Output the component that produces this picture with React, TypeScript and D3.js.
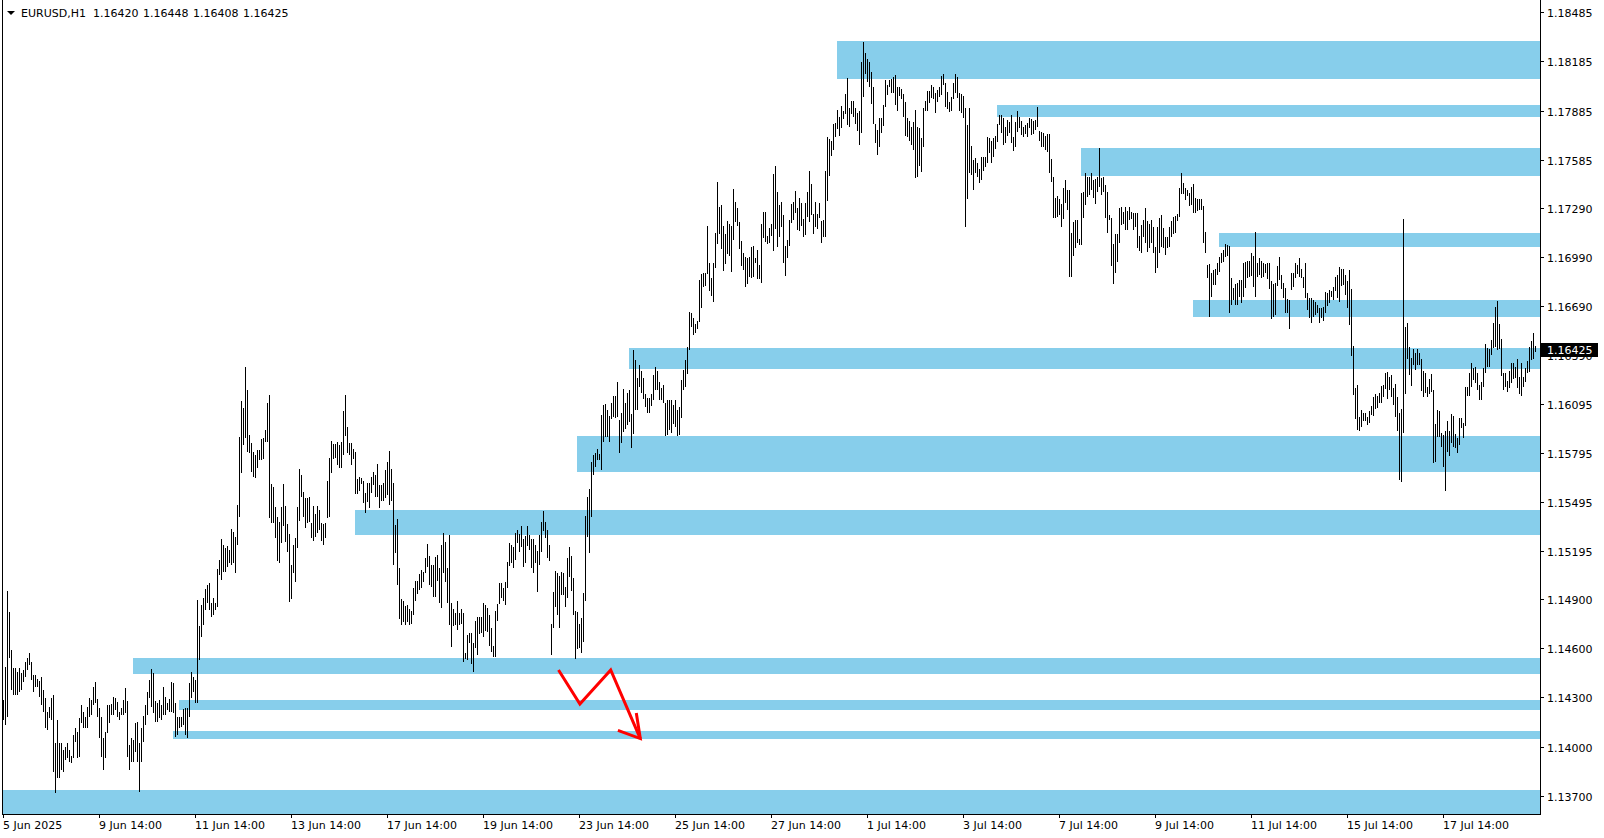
import React from "react";
import * as d3 from "d3";

const symbolLabel = "EURUSD,H1";
const lastBar = [1.1642, 1.16448, 1.16408, 1.16425];

const highs = [
1.14284,1.14488,1.14952,1.14824,1.14590,1.14478,1.14478,1.14457,1.14478,1.14447,
1.14467,1.14518,1.14539,1.14569,1.14518,1.14437,1.14437,1.14415,1.14402,1.14427,
1.14345,1.14295,1.14213,1.14243,1.14295,1.14315,1.14020,1.14162,1.14020,1.14020,
1.13979,1.13999,1.14020,1.13979,1.13942,1.14070,1.14111,1.14090,1.14172,1.14253,
1.14213,1.14182,1.14243,1.14295,1.14284,1.14366,1.14396,1.14290,1.14233,1.14182,
1.14050,1.14090,1.14253,1.14253,1.14260,1.14304,1.14295,1.14274,1.14213,1.14233,
1.14284,1.14356,1.14280,1.14009,1.14050,1.14040,1.14142,1.14152,1.14020,1.14111,
1.14186,1.14253,1.14335,1.14406,1.14472,1.14451,1.14280,1.14268,1.14284,1.14253,
1.14366,1.14304,1.14264,1.14290,1.14396,1.14390,1.14264,1.14182,1.14178,1.14182,
1.14227,1.14233,1.14233,1.14386,1.14457,1.14427,1.14406,1.14895,1.14736,1.14865,
1.14906,1.14961,1.14987,1.15001,1.14875,1.14906,1.14878,1.15085,1.15140,1.15266,
1.15231,1.15211,1.15225,1.15201,1.15327,1.15312,1.15282,1.15476,1.15889,1.16111,
1.16066,1.16318,1.16178,1.15903,1.15853,1.15801,1.15781,1.15812,1.15812,1.15879,
1.15883,1.15934,1.16097,1.16148,1.15604,1.15588,1.15465,1.15404,1.15374,1.15465,
1.15604,1.15469,1.15359,1.15298,1.15109,1.15231,1.15272,1.15465,1.15696,1.15659,
1.15557,1.15517,1.15517,1.15523,1.15364,1.15469,1.15421,1.15469,1.15445,1.15364,
1.15359,1.15367,1.15624,1.15761,1.15868,1.15848,1.15848,1.15862,1.15842,1.15862,
1.16052,1.16148,1.15954,1.15856,1.15856,1.15816,1.15801,1.15635,1.15645,1.15639,
1.15624,1.15551,1.15609,1.15613,1.15645,1.15679,1.15659,1.15726,1.15598,1.15598,
1.15613,1.15689,1.15740,1.15807,1.15697,1.15609,1.15353,1.15388,1.15089,1.14901,
1.14891,1.14858,1.14864,1.14838,1.14830,1.14967,1.15013,1.15013,1.15054,1.15078,
1.15068,1.15150,1.15237,1.15164,1.15109,1.15109,1.15160,1.15170,1.15089,1.15231,
1.15302,1.15251,1.15089,1.15292,1.14878,1.14838,1.14817,1.14891,1.14817,1.14838,
1.14817,1.14573,1.14681,1.14691,1.14691,1.14634,1.14769,1.14793,1.14793,1.14790,
1.14875,1.14864,1.14844,1.14803,1.14722,1.14614,1.14830,1.14871,1.14998,1.14998,
1.14967,1.15007,1.15129,1.15242,1.15231,1.15221,1.15302,1.15323,1.15298,1.15347,
1.15266,1.15286,1.15347,1.15292,1.15266,1.15266,1.15231,1.15196,1.15292,1.15374,
1.15441,1.15374,1.15323,1.15231,1.14748,1.14946,1.15074,1.15062,1.15042,1.15068,
1.15058,1.14973,1.15150,1.15217,1.15164,1.15028,1.14830,1.14824,1.14748,1.14783,
1.14940,1.15408,1.15526,1.15572,1.15740,1.15781,1.15791,1.15816,1.15787,1.16025,
1.16086,1.16093,1.16056,1.16019,1.16101,1.16142,1.16142,1.16229,1.15995,1.16036,
1.16184,1.16101,1.16158,1.16178,1.16031,1.16423,1.16361,1.16250,1.16331,1.16296,
1.16250,1.16154,1.16128,1.16128,1.16154,1.16270,1.16318,1.16296,1.16229,1.16189,
1.16209,1.16097,1.16117,1.16117,1.16117,1.16086,1.16117,1.16056,1.16076,1.16239,
1.16300,1.16361,1.16443,1.16657,1.16650,1.16616,1.16581,1.16602,1.16849,1.16886,
1.16890,1.16894,1.17179,1.16951,1.16860,1.16951,1.17134,1.17450,1.17293,1.17308,
1.17179,1.17130,1.17212,1.17191,1.17179,1.17404,1.17328,1.17287,1.17205,1.17089,
1.17016,1.16988,1.16982,1.16988,1.17049,1.17057,1.16982,1.17033,1.16941,1.17191,
1.17266,1.17266,1.17118,1.17165,1.17191,1.17497,1.17546,1.17389,1.17308,1.17328,
1.17246,1.17057,1.17094,1.17216,1.17314,1.17328,1.17395,1.17287,1.17349,1.17318,
1.17220,1.17321,1.17389,1.17517,1.17436,1.17252,1.17328,1.17252,1.17321,1.17212,
1.17216,1.17517,1.17721,1.17709,1.17700,1.17802,1.17807,1.17888,1.17844,1.17912,
1.17884,1.17986,1.18082,1.17898,1.17945,1.17945,1.17898,1.17871,1.17884,1.18183,
1.18305,1.18238,1.18198,1.18183,1.18122,1.18030,1.17802,1.17766,1.17837,1.17837,
1.17918,1.18071,1.18041,1.18071,1.18076,1.18092,1.18102,1.18027,1.18030,1.18015,
1.17986,1.17939,1.17837,1.17823,1.17783,1.17817,1.17888,1.17783,1.17776,1.17715,
1.17898,1.17945,1.18006,1.18006,1.18041,1.18027,1.17994,1.18010,1.18030,1.18096,
1.18108,1.18051,1.18000,1.17939,1.17969,1.18051,1.18108,1.18088,1.17990,1.17986,
1.17974,1.17898,1.17796,1.17898,1.17668,1.17582,1.17593,1.17566,1.17526,1.17603,
1.17599,1.17599,1.17721,1.17715,1.17700,1.17715,1.17729,1.17802,1.17857,1.17857,
1.17837,1.17783,1.17827,1.17817,1.17857,1.17725,1.17817,1.17884,1.17844,1.17823,
1.17786,1.17796,1.17807,1.17837,1.17831,1.17823,1.17827,1.17904,1.17762,1.17755,
1.17745,1.17729,1.17741,1.17741,1.17587,1.17480,1.17349,1.17363,1.17343,1.17314,
1.17410,1.17460,1.17399,1.17399,1.17134,1.17205,1.17216,1.17216,1.17098,1.17379,
1.17389,1.17501,1.17480,1.17480,1.17501,1.17460,1.17464,1.17480,1.17654,1.17471,
1.17480,1.17430,1.17389,1.17246,1.17226,1.17069,1.17130,1.17130,1.17287,1.17293,
1.17266,1.17297,1.17273,1.17293,1.17266,1.17260,1.17257,1.17260,1.17118,1.17185,
1.17216,1.17287,1.17212,1.17191,1.17216,1.17175,1.17053,1.17172,1.17226,1.17246,
1.17165,1.17114,1.17110,1.17172,1.17212,1.17233,1.17240,1.17252,1.17410,1.17505,
1.17444,1.17410,1.17399,1.17379,1.17416,1.17436,1.17349,1.17343,1.17343,1.17343,
1.17301,1.17144,1.16941,1.16947,1.16894,1.16910,1.16915,1.16955,1.16988,1.17012,
1.17033,1.17069,1.17063,1.17057,1.16860,1.16799,1.16825,1.16833,1.16849,1.16849,
1.16955,1.16961,1.16967,1.16967,1.17012,1.16996,1.17144,1.16951,1.16982,1.16967,
1.16951,1.16947,1.16951,1.16955,1.16845,1.16825,1.16830,1.16935,1.16988,1.16880,
1.16830,1.16799,1.16731,1.16728,1.16890,1.16894,1.16955,1.16941,1.16982,1.16915,
1.16869,1.16955,1.16768,1.16738,1.16738,1.16728,1.16718,1.16698,1.16677,1.16677,
1.16687,1.16778,1.16768,1.16788,1.16784,1.16808,1.16869,1.16880,1.16931,1.16915,
1.16915,1.16880,1.16845,1.16910,1.16793,1.16447,1.16189,1.16209,1.16012,1.16056,
1.16036,1.16036,1.16012,1.16052,1.16080,1.16134,1.16154,1.16142,1.16162,1.16202,
1.16209,1.16284,1.16290,1.16260,1.16270,1.16189,1.16215,1.16137,1.16036,1.16060,
1.17220,1.16565,1.16586,1.16443,1.16372,1.16427,1.16406,1.16427,1.16406,1.16366,
1.16296,1.16284,1.16198,1.16243,1.16276,1.16178,1.15970,1.16056,1.16052,1.15917,
1.15903,1.15930,1.15991,1.15930,1.16031,1.16019,1.15909,1.15883,1.16005,1.16005,
1.15975,1.16198,1.16198,1.16280,1.16345,1.16311,1.16321,1.16280,1.16209,1.16224,
1.16311,1.16459,1.16433,1.16427,1.16484,1.16589,1.16683,1.16724,1.16581,1.16488,
1.16284,1.16284,1.16235,1.16296,1.16341,1.16341,1.16321,1.16366,1.16260,1.16345,
1.16260,1.16311,1.16357,1.16439,1.16479,1.16528,1.16448
];

const lows = [
1.14162,1.14131,1.14182,1.14539,1.14345,1.14315,1.14315,1.14315,1.14335,1.14345,
1.14396,1.14427,1.14467,1.14498,1.14406,1.14335,1.14366,1.14366,1.14304,1.14253,
1.14213,1.14111,1.14101,1.14172,1.14162,1.13846,1.13714,1.13806,1.13806,1.13856,
1.13846,1.13918,1.13928,1.13907,1.13897,1.13928,1.14029,1.13928,1.13938,1.14142,
1.14111,1.14111,1.14111,1.14182,1.14192,1.14253,1.14264,1.14182,1.14050,1.13938,
1.13856,1.13928,1.14080,1.14142,1.14192,1.14192,1.14223,1.14182,1.14162,1.14192,
1.14192,1.14203,1.13938,1.13856,1.13907,1.13907,1.13968,1.13907,1.13724,1.13907,
1.14029,1.14131,1.14192,1.14295,1.14243,1.14203,1.14152,1.14152,1.14172,1.14162,
1.14192,1.14192,1.14223,1.14213,1.14213,1.14203,1.14060,1.14070,1.14111,1.14121,
1.14131,1.14070,1.14050,1.14182,1.14295,1.14335,1.14264,1.14264,1.14529,1.14671,
1.14742,1.14834,1.14875,1.14834,1.14793,1.14803,1.14834,1.14854,1.15048,1.15017,
1.15068,1.15068,1.15099,1.15119,1.15109,1.15119,1.15058,1.15231,1.15404,1.15669,
1.15842,1.15883,1.15801,1.15791,1.15679,1.15649,1.15639,1.15700,1.15751,1.15751,
1.15755,1.15862,1.15862,1.15394,1.15367,1.15364,1.15272,1.15135,1.15119,1.15245,
1.15347,1.15251,1.15190,1.14885,1.14901,1.15062,1.15007,1.15211,1.15380,1.15523,
1.15404,1.15333,1.15364,1.15374,1.15272,1.15257,1.15278,1.15306,1.15323,1.15257,
1.15231,1.15272,1.15394,1.15401,1.15669,1.15755,1.15761,1.15720,1.15700,1.15700,
1.15781,1.15897,1.15791,1.15781,1.15720,1.15755,1.15543,1.15543,1.15563,1.15604,
1.15490,1.15425,1.15496,1.15455,1.15551,1.15598,1.15526,1.15526,1.15455,1.15502,
1.15502,1.15517,1.15537,1.15476,1.15502,1.15109,1.15184,1.14987,1.14777,1.14742,
1.14762,1.14742,1.14762,1.14742,1.14748,1.14803,1.14891,1.14932,1.14956,1.14967,
1.15007,1.15058,1.15095,1.14987,1.14976,1.14915,1.14915,1.15013,1.14878,1.14844,
1.15058,1.15007,1.14878,1.14742,1.14606,1.14736,1.14742,1.14712,1.14742,1.14748,
1.14518,1.14533,1.14529,1.14631,1.14504,1.14455,1.14600,1.14559,1.14687,1.14691,
1.14671,1.14708,1.14701,1.14614,1.14579,1.14545,1.14549,1.14769,1.14871,1.14906,
1.14891,1.14864,1.14967,1.15103,1.15123,1.15089,1.15140,1.15242,1.15190,1.15221,
1.15099,1.15123,1.15225,1.15201,1.15089,1.15058,1.15119,1.14946,1.15109,1.15190,
1.15319,1.15272,1.15150,1.15135,1.14559,1.14722,1.14854,1.14803,1.14722,1.14926,
1.14926,1.14850,1.14906,1.15034,1.14952,1.14803,1.14533,1.14594,1.14600,1.14569,
1.14640,1.14891,1.15282,1.15180,1.15404,1.15659,1.15710,1.15751,1.15751,1.15689,
1.15862,1.15893,1.15893,1.15862,1.15999,1.16015,1.16005,1.16015,1.15795,1.15853,
1.15923,1.15938,1.15964,1.15984,1.15822,1.15909,1.16056,1.16056,1.16198,1.16158,
1.16123,1.16076,1.16039,1.16039,1.16080,1.16117,1.16178,1.16178,1.16117,1.16117,
1.16097,1.15897,1.15903,1.15934,1.15913,1.15970,1.15954,1.15897,1.15903,1.16005,
1.16178,1.16195,1.16276,1.16423,1.16565,1.16514,1.16528,1.16549,1.16596,1.16677,
1.16805,1.16813,1.16886,1.16784,1.16752,1.16718,1.16921,1.17069,1.17130,1.17037,
1.16906,1.16947,1.17008,1.16996,1.16900,1.17094,1.17205,1.17179,1.17039,1.16935,
1.16910,1.16808,1.16825,1.16869,1.16860,1.16866,1.16951,1.16853,1.16853,1.16833,
1.17104,1.17083,1.17069,1.17077,1.17118,1.17028,1.17159,1.17049,1.17114,1.17175,
1.16955,1.16874,1.16982,1.17057,1.17199,1.17216,1.17260,1.17155,1.17150,1.17179,
1.17114,1.17124,1.17233,1.17205,1.17246,1.17130,1.17175,1.17159,1.17226,1.17077,
1.17114,1.17110,1.17334,1.17485,1.17607,1.17644,1.17725,1.17770,1.17729,1.17776,
1.17831,1.17864,1.17796,1.17783,1.17864,1.17844,1.17802,1.17762,1.17674,1.17749,
1.17969,1.18108,1.18061,1.18027,1.17925,1.17802,1.17688,1.17613,1.17660,1.17749,
1.17790,1.17908,1.17980,1.18027,1.17994,1.17994,1.17918,1.17884,1.17974,1.17953,
1.17847,1.17729,1.17721,1.17700,1.17674,1.17644,1.17471,1.17477,1.17546,1.17511,
1.17660,1.17884,1.17884,1.17933,1.17960,1.17953,1.17871,1.17939,1.17969,1.17980,
1.18041,1.17908,1.17892,1.17878,1.17884,1.17953,1.17990,1.17960,1.17884,1.17871,
1.17837,1.17172,1.17343,1.17505,1.17491,1.17399,1.17505,1.17480,1.17444,1.17460,
1.17517,1.17538,1.17562,1.17627,1.17562,1.17599,1.17648,1.17694,1.17796,1.17745,
1.17674,1.17684,1.17729,1.17745,1.17684,1.17639,1.17664,1.17755,1.17776,1.17735,
1.17725,1.17741,1.17725,1.17776,1.17735,1.17741,1.17766,1.17786,1.17700,1.17664,
1.17660,1.17644,1.17633,1.17501,1.17450,1.17226,1.17226,1.17233,1.17246,1.17175,
1.17220,1.17321,1.17277,1.16869,1.16869,1.16996,1.17043,1.17074,1.17063,1.17063,
1.17226,1.17308,1.17358,1.17369,1.17399,1.17349,1.17314,1.17389,1.17420,1.17369,
1.17389,1.17226,1.17134,1.17216,1.16935,1.16825,1.16894,1.16961,1.17074,1.17185,
1.17191,1.17155,1.17155,1.17216,1.17220,1.17155,1.17175,1.17043,1.17028,1.17016,
1.17110,1.17074,1.17022,1.17043,1.17074,1.17012,1.16894,1.16921,1.17012,1.17053,
1.17043,1.17002,1.17043,1.17053,1.17114,1.17130,1.17134,1.17212,1.17233,1.17375,
1.17375,1.17338,1.17363,1.17301,1.17308,1.17260,1.17260,1.17273,1.17277,1.17277,
1.17074,1.17016,1.16860,1.16626,1.16744,1.16819,1.16819,1.16880,1.16900,1.16951,
1.16961,1.16992,1.16996,1.16647,1.16698,1.16728,1.16698,1.16698,1.16747,1.16708,
1.16747,1.16799,1.16860,1.16869,1.16874,1.16808,1.16744,1.16869,1.16880,1.16860,
1.16869,1.16890,1.16853,1.16793,1.16610,1.16626,1.16636,1.16813,1.16849,1.16793,
1.16738,1.16650,1.16650,1.16549,1.16788,1.16808,1.16860,1.16886,1.16869,1.16860,
1.16799,1.16738,1.16667,1.16616,1.16589,1.16626,1.16636,1.16647,1.16589,1.16616,
1.16602,1.16650,1.16691,1.16708,1.16747,1.16728,1.16784,1.16738,1.16718,1.16813,
1.16819,1.16758,1.16677,1.16575,1.16386,1.16148,1.15999,1.15934,1.15930,1.15954,
1.15991,1.15991,1.15964,1.15978,1.16025,1.16019,1.16060,1.16066,1.16097,1.16101,
1.16134,1.16183,1.16123,1.16178,1.16134,1.16086,1.16015,1.15930,1.15628,1.15618,
1.15917,1.16154,1.16366,1.16270,1.16202,1.16331,1.16300,1.16331,1.16331,1.16174,
1.16134,1.16158,1.16137,1.16154,1.16168,1.15730,1.15740,1.15889,1.15889,1.15832,
1.15706,1.15563,1.15801,1.15775,1.15853,1.15832,1.15822,1.15795,1.15842,1.15944,
1.15883,1.15958,1.16142,1.16142,1.16198,1.16239,1.16220,1.16178,1.16117,1.16117,
1.16198,1.16280,1.16321,1.16321,1.16392,1.16433,1.16443,1.16423,1.16427,1.16264,
1.16178,1.16195,1.16168,1.16189,1.16220,1.16243,1.16250,1.16189,1.16154,1.16142,
1.16198,1.16229,1.16280,1.16290,1.16361,1.16366,1.16408
];

const priceTicks = [1.18485, 1.18185, 1.17885, 1.17585, 1.1729, 1.1699, 1.1669, 1.1639,
  1.16095, 1.15795, 1.15495, 1.15195, 1.149, 1.146, 1.143, 1.14, 1.137];
const timeLabels = ["5 Jun 2025", "9 Jun 14:00", "11 Jun 14:00", "13 Jun 14:00", "17 Jun 14:00",
  "19 Jun 14:00", "23 Jun 14:00", "25 Jun 14:00", "27 Jun 14:00", "1 Jul 14:00", "3 Jul 14:00",
  "7 Jul 14:00", "9 Jul 14:00", "11 Jul 14:00", "15 Jul 14:00", "17 Jul 14:00"];
const timeLabelBars = [0, 48, 96, 144, 192, 240, 288, 336, 384, 432, 480, 528, 576, 624, 672, 720];

// supply / demand zones: start bar, upper price, lower price (extend to the right edge)
const zoneStartBars = [417, 497, 539, 608, 595, 313, 287, 176, 65, 88, 85, -0.5];
const zoneTops = [1.1831, 1.17918, 1.17656, 1.17137, 1.16728, 1.16434, 1.15897, 1.15445, 1.14541, 1.14284, 1.14095, 1.13735];
const zoneBottoms = [1.18077, 1.17845, 1.17485, 1.17051, 1.16624, 1.16306, 1.15677, 1.15292, 1.14443, 1.14223, 1.14046, 1.135];

// red hand-drawn arrow
const arrowBars = [277.5, 288.2, 303.6, 318.4];
const arrowPrices = [1.14468, 1.1426, 1.14468, 1.14049];
const arrowHeadBars = [307.2, 318.4, 316.4];
const arrowHeadPrices = [1.14099, 1.14049, 1.14205];

const FONT = "'DejaVu Sans', Verdana, sans-serif";

export default function App() {
  const W = 1604, H = 838;
  const plotRight = 1540;
  const plotBottom = 814;
  const n = highs.length;
  const x = d3.scaleLinear().domain([0, n - 1]).range([3.5, 3.5 + 2 * (n - 1)]);
  const y = d3.scaleLinear().domain([1.137, 1.18485]).range([795.7, 12.3]);

  const barPath = d3.path();
  for (let i = 0; i < n; i++) {
    const xi = Math.round(x(i) - 0.5) + 0.5;
    const t = Math.round(y(highs[i]));
    let b = Math.round(y(lows[i]));
    if (b - t < 1) b = t + 1;
    barPath.moveTo(xi, t);
    barPath.lineTo(xi, b);
  }

  const arrowLine = d3.line<number>().x((d, i) => x(arrowBars[i])).y((d) => y(d));
  const headLine = d3.line<number>().x((d, i) => x(arrowHeadBars[i])).y((d) => y(d));

  return (
    <svg width={W} height={H} style={{ position: "absolute", left: 0, top: 0, display: "block", background: "#fff" }}>
      <rect x={0} y={0} width={W} height={H} fill="#ffffff" />
      <defs>
        <clipPath id="plot">
          <rect x={3} y={0} width={plotRight - 3} height={plotBottom} />
        </clipPath>
      </defs>
      <g clipPath="url(#plot)">
        {zoneStartBars.map((s, k) => {
          const x0 = Math.round(x(s) - 0.5);
          const y0 = Math.round(y(zoneTops[k]));
          const y1 = Math.round(y(zoneBottoms[k]));
          return <rect key={k} x={x0} y={y0} width={plotRight - x0} height={y1 - y0} fill="#87CEEB" />;
        })}
        <path d={barPath.toString()} stroke="#000" strokeWidth={1} fill="none" shapeRendering="crispEdges" />
        <path d={arrowLine(arrowPrices) || ""} stroke="#ff0000" strokeWidth={3} fill="none" strokeLinejoin="miter" />
        <path d={headLine(arrowHeadPrices) || ""} stroke="#ff0000" strokeWidth={3} fill="none" strokeLinejoin="miter" />
      </g>
      {/* frame */}
      <line x1={2.5} y1={0} x2={2.5} y2={plotBottom + 0.5} stroke="#000" shapeRendering="crispEdges" />
      <line x1={plotRight + 0.5} y1={0} x2={plotRight + 0.5} y2={plotBottom + 0.5} stroke="#000" shapeRendering="crispEdges" />
      <line x1={2} y1={plotBottom + 0.5} x2={plotRight + 1} y2={plotBottom + 0.5} stroke="#000" shapeRendering="crispEdges" />
      {/* price axis */}
      {priceTicks.map((v, k) => {
        const yy = Math.round(y(v)) + 0.5;
        return (
          <g key={k}>
            <line x1={plotRight + 1} x2={plotRight + 4} y1={yy} y2={yy} stroke="#000" shapeRendering="crispEdges" />
            <text x={1547} y={yy + 4} fontFamily={FONT} fontSize={11} fill="#000">{v.toFixed(5)}</text>
          </g>
        );
      })}
      {/* current price label (covers the 1.16390 tick label, as in MT4) */}
      {(() => {
        const yy = Math.round(y(lastBar[3]));
        return (
          <g>
            <rect x={1541} y={yy - 7} width={57} height={14} fill="#000" />
            <text x={1547} y={yy + 4} fontFamily={FONT} fontSize={11} fill="#fff">{lastBar[3].toFixed(5)}</text>
          </g>
        );
      })()}
      {/* time axis */}
      {timeLabelBars.map((b, k) => {
        const xx = Math.round(x(b) - 0.5) + 0.5;
        return (
          <g key={k}>
            <line x1={xx} x2={xx} y1={plotBottom + 1} y2={plotBottom + 4} stroke="#000" shapeRendering="crispEdges" />
            <text x={xx - 0.5} y={829} fontFamily={FONT} fontSize={11} fill="#000">{timeLabels[k]}</text>
          </g>
        );
      })}
      {/* legend */}
      <path d="M7,11 L15,11 L11,15 Z" fill="#000" />
      <text x={21} y={17} fontFamily={FONT} fontSize={11} fill="#000">{symbolLabel}</text>
      {lastBar.map((v, k) => (
        <text key={k} x={93 + 50 * k} y={17} fontFamily={FONT} fontSize={11} fill="#000">{v.toFixed(5)}</text>
      ))}
    </svg>
  );
}
